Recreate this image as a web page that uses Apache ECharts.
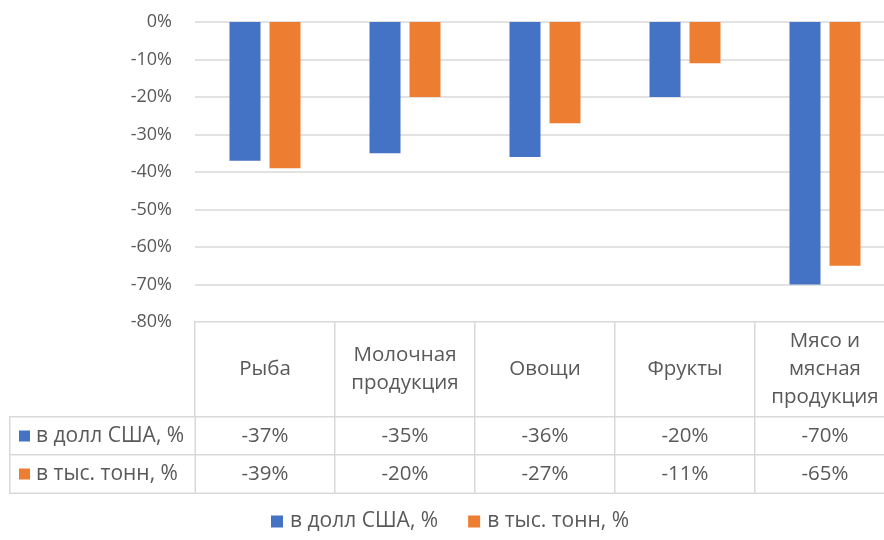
<!DOCTYPE html>
<html>
<head>
<meta charset="utf-8">
<script src="https://cdn.jsdelivr.net/npm/echarts@6/dist/echarts.min.js"></script>
<style>
  html, body { margin: 0; padding: 0; background: #fff; }
  #main { width: 884px; height: 540px; }
</style>
</head>
<body>
<div id="main"></div>
<script>
// данные диаграммы
var categories = ['Рыба', 'Молочная\nпродукция', 'Овощи', 'Фрукты', 'Мясо и\nмясная\nпродукция'];
var seriesNames = ['в долл США, %', 'в тыс. тонн, %'];
var usd = [-37, -35, -36, -20, -70];
var tons = [-39, -20, -27, -11, -65];
var colors = ['#4472C4', '#ED7D31'];

var rows = [usd, tons];
var textColor = '#595959';
var lineColor = '#d9d9d9';
var font = 'Open Sans';
var fs = 20.5;

var myChart = echarts.init(document.getElementById('main'));

// ячейки таблицы данных
var headCells = categories.map(function (c, i) { return [i, 0, 0]; });
var valueCells = [];
rows.forEach(function (r, ri) {
    r.forEach(function (v, ci) { valueCells.push([ci, ri, v]); });
});
var nameCells = [[0, 0, 0], [0, 1, 0]];

var cellStyle = { color: '#fff', borderColor: lineColor, borderWidth: 1.5 };
var hiddenCat = function (idx, n) {
    return { type: 'category', gridIndex: idx, data: n, show: false };
};
var gridAt = function (l, t, w, h) {
    return { left: l, top: t, width: w, height: h, outerBoundsMode: 'none' };
};

var option = {
    textStyle: { fontFamily: font },
    animation: false,
    color: colors,
    grid: [
        gridAt(195, 22, 700, 300),
        gridAt(195, 322, 700, 95),
        gridAt(195, 417, 700, 76),
        gridAt(10, 417, 185, 76)
    ],
    xAxis: [
        { type: 'category', gridIndex: 0, data: categories, axisLine: { show: false }, axisTick: { show: false }, axisLabel: { show: false } },
        hiddenCat(1, [0, 1, 2, 3, 4]),
        hiddenCat(2, [0, 1, 2, 3, 4]),
        hiddenCat(3, [0])
    ],
    yAxis: [
        {
            type: 'value', gridIndex: 0, min: -80, max: 0, interval: 10,
            axisLabel: { formatter: '{value}%', color: textColor, fontSize: 18, margin: 23, fontFamily: font },
            splitLine: { lineStyle: { color: lineColor, width: 1.5 } }
        },
        hiddenCat(1, [0]),
        { type: 'category', gridIndex: 2, data: [0, 1], show: false, inverse: true },
        { type: 'category', gridIndex: 3, data: [0, 1], show: false, inverse: true }
    ],
    legend: {
        bottom: 3,
        left: 266,
        itemWidth: 12,
        itemHeight: 12,
        itemGap: 30,
        icon: 'rect',
        textStyle: { color: textColor, fontSize: 21, fontFamily: font, padding: [0, 0, 0, 2] },
        data: seriesNames
    },
    series: [
        {
            name: seriesNames[0], type: 'bar', data: usd,
            barWidth: 31, barGap: '29%'
        },
        {
            name: seriesNames[1], type: 'bar', data: tons,
            barWidth: 31, barGap: '29%'
        },
        {
            type: 'heatmap', xAxisIndex: 1, yAxisIndex: 1, data: headCells,
            itemStyle: cellStyle, emphasis: { disabled: true }, silent: true,
            label: {
                show: true, color: textColor, fontSize: fs, lineHeight: 28, fontFamily: font,
                formatter: function (p) { return categories[p.value[0]]; }
            }
        },
        {
            type: 'heatmap', xAxisIndex: 2, yAxisIndex: 2, data: valueCells,
            itemStyle: cellStyle, emphasis: { disabled: true }, silent: true,
            label: {
                show: true, color: textColor, fontSize: fs, fontFamily: font,
                formatter: function (p) { return p.value[2] + '%'; }
            }
        },
        {
            type: 'heatmap', xAxisIndex: 3, yAxisIndex: 3, data: nameCells,
            itemStyle: cellStyle, emphasis: { disabled: true }, silent: true,
            label: {
                show: true, position: 'insideLeft', distance: 10, color: textColor, fontSize: 21, fontFamily: font,
                formatter: function (p) { return '{s' + p.value[1] + '|}{g|}' + seriesNames[p.value[1]]; },
                rich: {
                    s0: { width: 11, height: 11, backgroundColor: colors[0] },
                    s1: { width: 11, height: 11, backgroundColor: colors[1] },
                    g: { width: 6 }
                }
            }
        }
    ]
};

myChart.setOption(option);
</script>
</body>
</html>
